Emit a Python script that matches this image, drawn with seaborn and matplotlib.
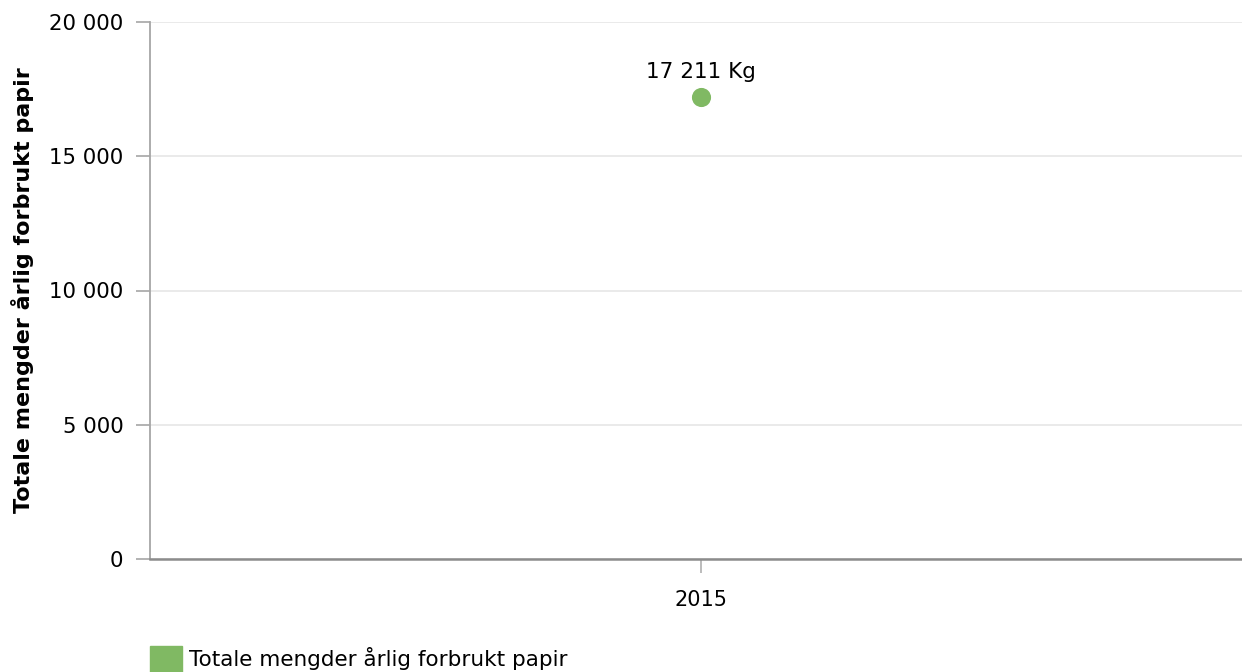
import matplotlib
matplotlib.use("Agg")
import matplotlib.pyplot as plt
import matplotlib.ticker as mticker
from matplotlib.patches import Patch
import pandas as pd
import seaborn as sns

# --- Data ---
years = ["2015"]
paper_kg = [17211]
series_name = "Totale mengder årlig forbrukt papir"
y_ticks = [0, 5000, 10000, 15000, 20000]

GREEN = "#80b963"

sns.set_style("white")
plt.rcParams["font.family"] = ["DejaVu Sans"]
plt.rcParams["text.color"] = "#000000"
plt.rcParams["xtick.labelcolor"] = "#000000"
plt.rcParams["ytick.labelcolor"] = "#000000"

df = pd.DataFrame({"year": years, "kg": paper_kg})

fig = plt.figure(figsize=(12.42, 6.72), dpi=100)
ax = fig.add_axes([150 / 1242, 1 - 559 / 672, 1 - 150 / 1242, (559 - 22) / 672])

sns.scatterplot(data=df, x="year", y="kg", ax=ax, color=GREEN, s=190,
                edgecolor=GREEN, linewidth=0, zorder=3, legend=False)

# value labels
for i, v in enumerate(paper_kg):
    lbl = f"{v:,}".replace(",", " ") + " Kg"
    ax.annotate(lbl, (i, v), xytext=(0, 11), textcoords="offset points",
                ha="center", va="bottom", fontsize=15.5, color="#000000")

ax.set_ylim(0, 20000)
ax.set_xlim(-0.5, 0.491)
ax.set_yticks(y_ticks)
ax.yaxis.set_major_formatter(mticker.FuncFormatter(lambda v, p: f"{int(v):,}".replace(",", " ")))
ax.grid(axis="y", color="#e6e6e6", linewidth=1.2)
ax.set_axisbelow(True)

for side in ["top", "right"]:
    ax.spines[side].set_visible(False)
ax.spines["left"].set_color("#a6a6a6")
ax.spines["left"].set_linewidth(1.3)
ax.spines["bottom"].set_color("#8c8c8c")
ax.spines["bottom"].set_linewidth(1.8)

ax.tick_params(axis="y", length=10, width=1.2, color="#a6a6a6", labelsize=15.3, pad=9, left=True)
ax.tick_params(axis="x", length=10, width=1.2, color="#b0b0b0", labelsize=15, pad=12, bottom=True)

ax.set_xlabel("")
ax.set_ylabel(series_name, fontsize=16, fontweight="bold", color="#000000")
ax.yaxis.set_label_coords(-116 / 1092, 0.5)

handles = [Patch(facecolor=GREEN, edgecolor=GREEN, label=series_name)]
fig.legend(handles=handles, loc="lower left", bbox_to_anchor=(150 / 1242, 0.0),
           frameon=False, fontsize=15.5, handlelength=1.5, handleheight=1.5,
           handletextpad=0.3, borderpad=0, borderaxespad=0)

fig.savefig("out.png", dpi=100)
